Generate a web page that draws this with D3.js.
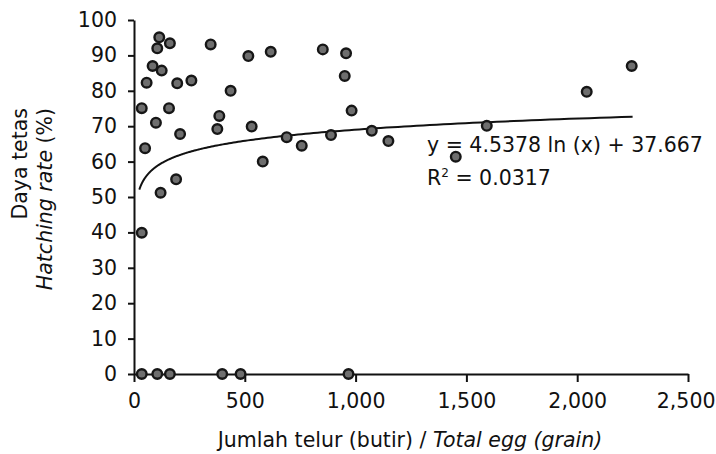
<!DOCTYPE html>
<html>
<head>
<meta charset="utf-8">
<script src="https://cdn.jsdelivr.net/npm/d3@7"></script>
<style>
body { margin: 0; background: #fff; }
svg { display: block; }
text { font-family: "DejaVu Sans", sans-serif; fill: #111; }
</style>
</head>
<body>
<svg id="chart" width="716" height="454"></svg>
<script>
// Data
const eggTotal = [114, 105, 162, 346, 84, 125, 57, 195, 259, 436, 516, 617, 852, 957, 951, 982,
  35, 158, 99, 385, 376, 531, 208, 50, 689, 757, 889, 1073, 581, 190, 120, 1148, 1452, 1592, 2043, 2246, 35,
  35, 105, 162, 398, 481, 968];
const hatchRate = [95.1, 92.0, 93.4, 93.1, 87.0, 85.7, 82.3, 82.1, 82.9, 80.0, 89.8, 91.0, 91.7, 90.6, 84.2, 74.4,
  75.1, 75.1, 71.0, 72.9, 69.2, 69.9, 67.8, 63.8, 66.9, 64.5, 67.5, 68.7, 60.0, 55.0, 51.2, 65.8, 61.4, 70.1, 79.7, 87.0, 39.9,
  0, 0, 0, 0, 0, 0];
const xTicks = [0, 500, 1000, 1500, 2000, 2500];
const yTicks = [0, 10, 20, 30, 40, 50, 60, 70, 80, 90, 100];
const trendA = 4.5378, trendB = 37.667;
const trendRange = [24, 2250];
const eqText = "y = 4.5378 ln (x) + 37.667";
const r2Value = "0.0317";

const svg = d3.select("#chart");
const x = d3.scaleLinear().domain([0, 2500]).range([134, 688]);
const y = d3.scaleLinear().domain([0, 100]).range([374, 20]);

const fmt = d3.format(",");
const FS = 20.5;

// axes
const xAxis = svg.append("g").attr("transform", `translate(0,${y(0)})`)
  .call(d3.axisBottom(x).tickValues(xTicks).tickFormat(fmt).tickSize(8).tickSizeOuter(0).tickPadding(11));
const yAxis = svg.append("g").attr("transform", `translate(${x(0)},0)`)
  .call(d3.axisLeft(y).tickValues(yTicks).tickSize(6).tickSizeOuter(0).tickPadding(11));
[xAxis, yAxis].forEach(g => {
  g.select(".domain").attr("stroke", "#111").attr("stroke-width", 2);
  g.selectAll(".tick line").attr("stroke", "#111").attr("stroke-width", 2);
  g.selectAll(".tick text").attr("font-family", "DejaVu Sans").attr("font-size", FS).attr("fill", "#111");
});
// keep the last x label inside the window
xAxis.selectAll(".tick text").filter(d => d === 2500).attr("text-anchor", "end").attr("dx", 27);

// trendline
const lineData = d3.range(0, 201).map(i => {
  const xv = trendRange[0] * Math.pow(trendRange[1] / trendRange[0], i / 200);
  return [xv, trendA * Math.log(xv) + trendB];
});
svg.append("path").datum(lineData)
  .attr("fill", "none").attr("stroke", "#111").attr("stroke-width", 2)
  .attr("d", d3.line().x(d => x(d[0])).y(d => y(d[1])));

// points
svg.append("g").selectAll("circle").data(eggTotal.map((v, i) => [v, hatchRate[i]]))
  .join("circle")
  .attr("cx", d => x(d[0])).attr("cy", d => y(d[1])).attr("r", 4.8)
  .attr("fill", "#6e6e6e").attr("stroke", "#161616").attr("stroke-width", 2.4);

// equation
svg.append("text").attr("x", 427).attr("y", 152).attr("font-size", FS).text(eqText);
const r2 = svg.append("text").attr("x", 427).attr("y", 185).attr("font-size", FS);
r2.append("tspan").text("R");
r2.append("tspan").attr("font-size", 12).attr("dy", -8).text("2");
r2.append("tspan").attr("dy", 8).text(" = " + r2Value);

// x title
const xt = svg.append("text").attr("x", 410).attr("y", 447).attr("text-anchor", "middle").attr("font-size", FS);
xt.append("tspan").text("Jumlah telur (butir) / ");
xt.append("tspan").attr("font-style", "italic").text("Total egg (grain)");

// y title
svg.append("text").attr("transform", "translate(27,108) rotate(-90)")
  .attr("text-anchor", "end").attr("font-size", FS).text("Daya tetas");
const yt = svg.append("text").attr("transform", "translate(52,108) rotate(-90)")
  .attr("text-anchor", "end").attr("font-size", FS);
yt.append("tspan").attr("font-style", "italic").text("Hatching rate");
yt.append("tspan").text(" (%)");
</script>
</body>
</html>
